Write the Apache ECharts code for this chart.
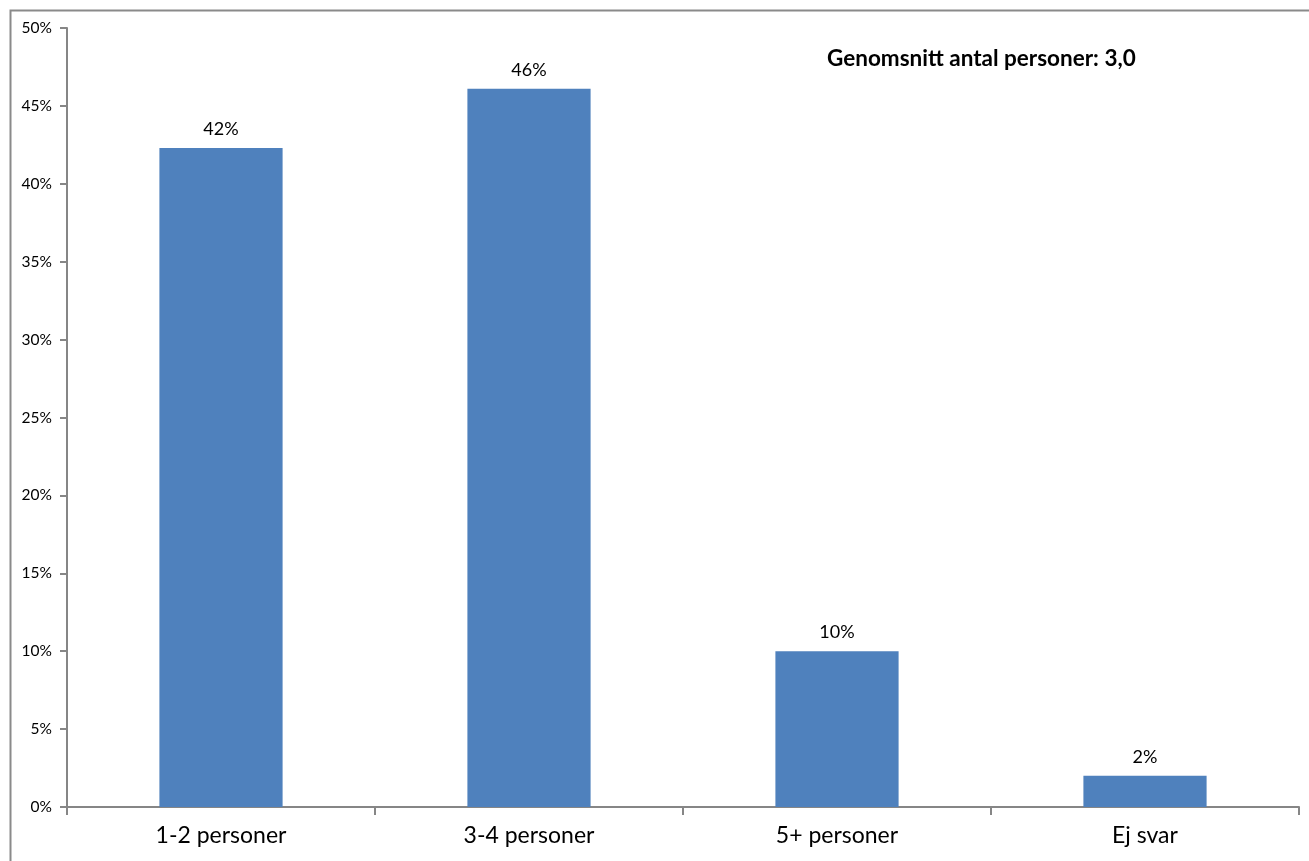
<!DOCTYPE html>
<html>
<head>
<meta charset="utf-8">
<script src="https://cdn.jsdelivr.net/npm/echarts@6/dist/echarts.min.js"></script>
<style>
html,body{margin:0;padding:0;background:#fff;}
#chart{width:1309px;height:861px;}
</style>
</head>
<body>
<div id="chart"></div>
<script>
const categories = ['1-2 personer', '3-4 personer', '5+ personer', 'Ej svar'];
const values = [42.3, 46.1, 10.0, 2.0];
const yTicks = [0, 5, 10, 15, 20, 25, 30, 35, 40, 45, 50];
const annotation = 'Genomsnitt antal personer: 3,0';

const chart = echarts.init(document.getElementById('chart'));
chart.setOption({
  animation: false,
  backgroundColor: '#fff',
  textStyle: { fontFamily: 'Lato' },
  graphic: [
    { type: 'rect', left: 8, top: 8, shape: { width: 1340, height: 900 },
      style: { fill: 'none', stroke: '#8a8a8a', lineWidth: 2 }, z: -1 },
    { type: 'text', left: 827, top: 47,
      style: { text: annotation, font: 'bold 22.5px Lato', fill: '#000' } }
  ],
  grid: { left: 67, right: 10, top: 28, bottom: 54, containLabel: false },
  xAxis: {
    type: 'category',
    data: categories,
    axisLine: { lineStyle: { color: '#868686', width: 2 } },
    axisTick: { show: true, length: 8, alignWithLabel: false, lineStyle: { color: '#868686', width: 2 } },
    axisLabel: { color: '#000', fontSize: 23, margin: 17, fontFamily: 'Lato' }
  },
  yAxis: {
    type: 'value',
    min: 0, max: 50, interval: 5,
    axisLine: { show: true, lineStyle: { color: '#868686', width: 2 } },
    axisTick: { show: true, length: 7, lineStyle: { color: '#868686', width: 2 } },
    splitLine: { show: false },
    axisLabel: { color: '#000', fontSize: 15.5, margin: 15, fontFamily: 'Lato',
      formatter: v => yTicks.includes(v) ? v + '%' : '' }
  },
  series: [{
    type: 'bar',
    data: values,
    barWidth: '40%',
    itemStyle: { color: '#4F81BD' },
    label: { show: true, position: 'top', distance: 10, color: '#000', fontSize: 18, fontFamily: 'Lato',
      formatter: p => Math.round(p.value) + '%' }
  }]
});
</script>
</body>
</html>
